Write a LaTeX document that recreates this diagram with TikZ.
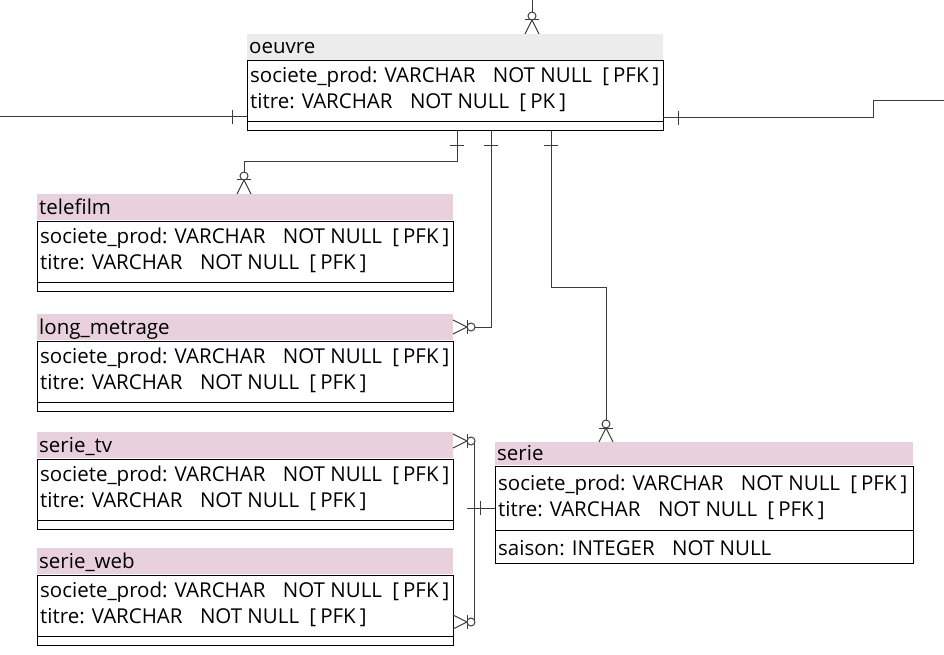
\documentclass[tikz,border=0pt]{standalone}
\usepackage{fontspec}
\setmainfont{Open Sans}
\usetikzlibrary{calc}
\definecolor{hdrgray}{HTML}{ECECEC}
\definecolor{hdrpink}{HTML}{E8D0DC}
\definecolor{conncol}{HTML}{3C3C3C}
\tikzset{
  hdr/.style={anchor=north west, inner sep=0pt, outer sep=0pt, minimum width=416pt, minimum height=26pt},
  tbody/.style={draw=black, line width=1pt, anchor=north west, inner sep=0pt, outer sep=0pt, minimum width=416pt},
  txt/.style={anchor=base west, inner sep=0pt, font=\fontsize{20.5}{22}\selectfont},
  conn/.style={draw=conncol, line width=1pt},
  onemark/.pic={\draw[conn] (15,-7) -- (15,7);},
  zmany/.pic={\draw[conn] (0,-7) -- (14,0) -- (0,7); \draw[conn] (14,-7) -- (14,7); \draw[conn, fill=white] (18,0) circle (4pt);}
}
\newcommand\colsep{\hspace{0.85em}}
\newcommand\colsepb{\hspace{0.5em}}
\newcommand\brk[1]{[\hspace{0.2em}#1\hspace{0.2em}]}
\newcommand\mytable[6]{%
  \node[hdr, fill=#4] (#1) at (#2,#3) {};
  \node[txt] (#1-t) at ($(#1.south west)+(2,-6)$) {#5};
  \node[tbody, minimum height=70pt] (#1-b) at ($(#1.south west)+(0,1)$) {};
  \draw[black, line width=1pt] ($(#1-b.south west)+(0,-9)$) -- ($(#1-b.south east)+(0,-9)$);
  \node[txt] (#1-r1) at ($(#1-b.north west)+(3,22)$) {societe\_prod: VARCHAR\colsep NOT NULL\colsepb\brk{PFK}};
  \node[txt] (#1-r2) at ($(#1-b.north west)+(3,48)$) {titre: VARCHAR\colsep NOT NULL\colsepb\brk{#6}};
}
\begin{document}
\begin{tikzpicture}[x=1pt, y=-1pt]
\useasboundingbox (0,0) rectangle (944,655);
\fill[white] (0,0) rectangle (944,655);

\mytable{oeuvre}{247}{34}{hdrgray}{oeuvre}{PK}
\mytable{telefilm}{37}{194}{hdrpink}{telefilm}{PFK}
\mytable{longmetrage}{37}{314}{hdrpink}{long\_metrage}{PFK}
\mytable{serietv}{37}{432}{hdrpink}{serie\_tv}{PFK}
\mytable{serieweb}{37}{548}{hdrpink}{serie\_web}{PFK}

% serie
\node[hdr, fill=hdrpink, minimum width=418pt, minimum height=23pt] (serie) at (495,442) {};
\node[txt] (serie-t) at ($(serie.south west)+(2,-5)$) {serie};
\node[tbody, minimum width=418pt, minimum height=97pt] (serie-b) at ($(serie.south west)+(0,1)$) {};
\draw[black, line width=1pt] ($(serie-b.north west)+(0,64)$) -- ($(serie-b.north east)+(0,64)$);
\node[txt] (serie-r1) at ($(serie-b.north west)+(3,24)$) {societe\_prod: VARCHAR\colsep NOT NULL\colsepb\brk{PFK}};
\node[txt] (serie-r2) at ($(serie-b.north west)+(3,50)$) {titre: VARCHAR\colsep NOT NULL\colsepb\brk{PFK}};
\node[txt] (serie-r3) at ($(serie-b.north west)+(3,89)$) {saison: INTEGER\colsep NOT NULL};

% connector coordinates
\coordinate (topend) at (532,0);
\coordinate (leftend) at (0,117);
\coordinate (rj) at (873,118);
\coordinate (rightend) at (944,101);
\coordinate (k1) at (457,162);
\coordinate (k2) at (244,162);
\coordinate (k3) at (491,327);
\coordinate (k4) at (551,287);
\coordinate (k5) at (606,287);
\coordinate (sj) at (467,508);
\coordinate (vj) at (474,508);
\coordinate (vt) at (474,441);
\coordinate (vw) at (474,622);

% top
\draw[conn, shorten >=14pt] (topend) -- (oeuvre.north -| topend);
\pic[rotate=90] at (oeuvre.north -| topend) {zmany};
% left
\draw[conn] (leftend) -- (oeuvre-b.west |- leftend);
\pic[rotate=180] at (oeuvre-b.west |- leftend) {onemark};
% right
\draw[conn] (oeuvre-b.east |- rj) -- (rj) |- (rightend);
\pic at (oeuvre-b.east |- rj) {onemark};
% telefilm
\draw[conn, shorten >=14pt] (oeuvre-b.south -| k1) -- (k1) -- (k2) -- (telefilm.north -| k2);
\pic[rotate=-90] at (oeuvre-b.south -| k1) {onemark};
\pic[rotate=90] at (telefilm.north -| k2) {zmany};
% long_metrage
\draw[conn, shorten >=14pt] (oeuvre-b.south -| k3) -- (k3) -- (longmetrage.east |- k3);
\pic[rotate=-90] at (oeuvre-b.south -| k3) {onemark};
\pic at (longmetrage.east |- k3) {zmany};
% serie
\draw[conn, shorten >=14pt] (oeuvre-b.south -| k4) -- (k4) -- (k5) -- (serie.north -| k5);
\pic[rotate=-90] at (oeuvre-b.south -| k4) {onemark};
\pic[rotate=90] at (serie.north -| k5) {zmany};
% serie -> serie_tv / serie_web
\draw[conn] (serie-b.west |- sj) -- (sj);
\pic[rotate=180] at (serie-b.west |- sj) {onemark};
\draw[conn, shorten >=14pt] (vj) -- (vt) -- (serietv.east |- vt);
\pic at (serietv.east |- vt) {zmany};
\draw[conn, shorten >=14pt] (vj) -- (vw) -- (serieweb-b.east |- vw);
\pic at (serieweb-b.east |- vw) {zmany};
\end{tikzpicture}
\end{document}
